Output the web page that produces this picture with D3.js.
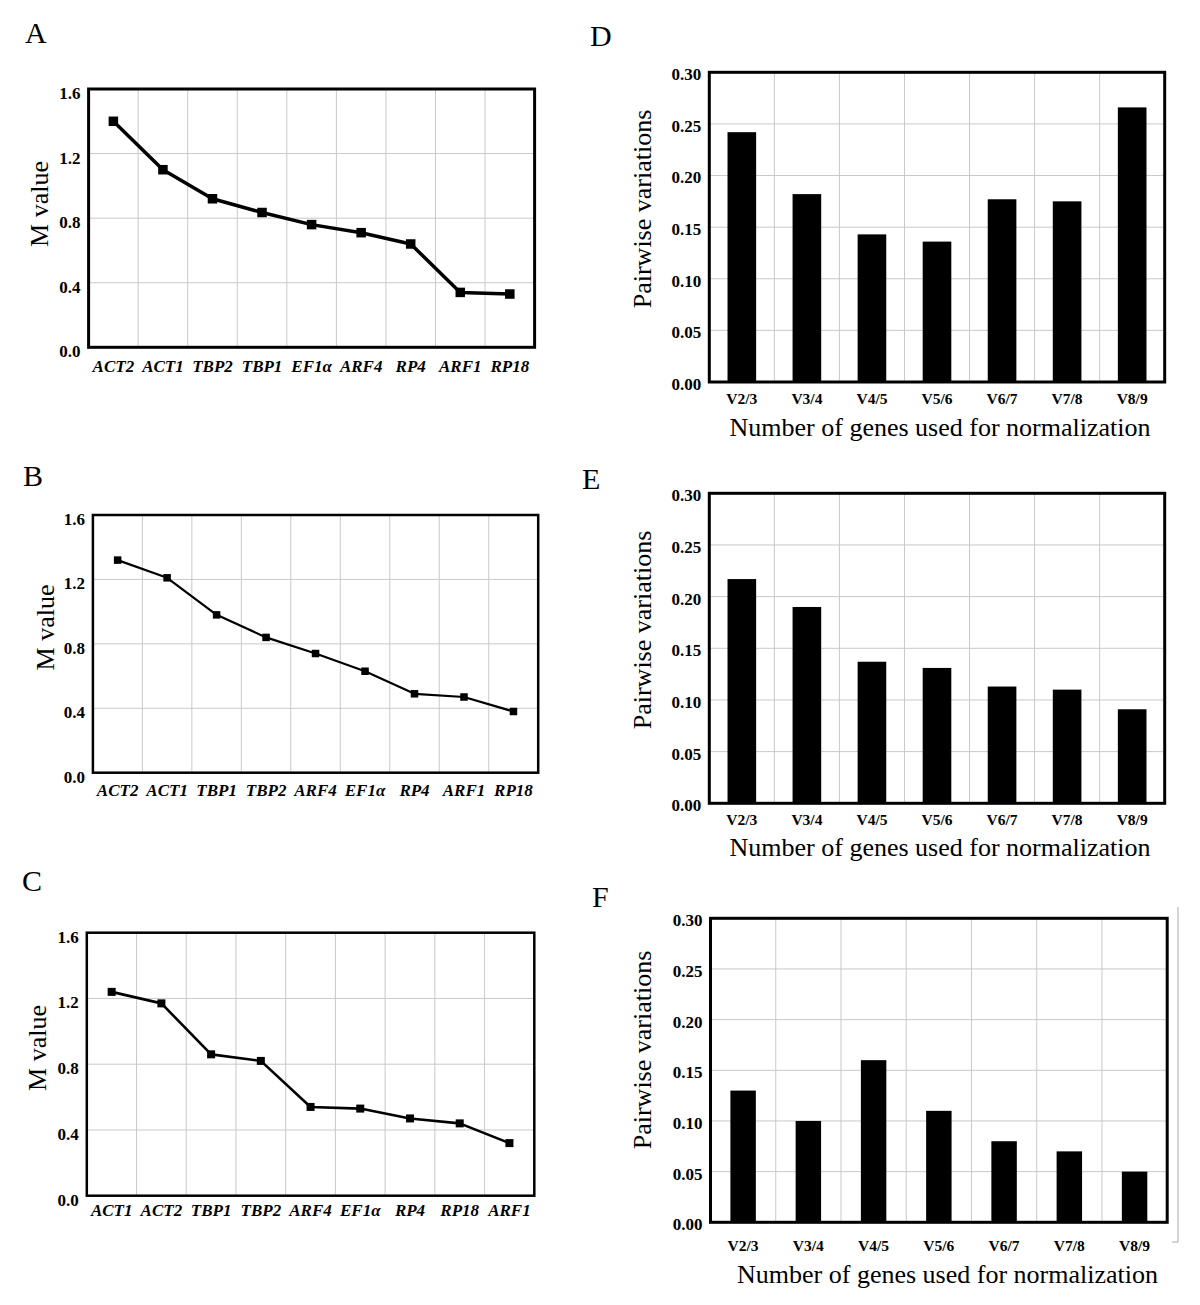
<!DOCTYPE html>
<html>
<head>
<meta charset="utf-8">
<script src="https://cdn.jsdelivr.net/npm/d3@7"></script>
<style>
  body { margin: 0; background: #fff; }
  svg { display: block; }
  text { font-family: "Liberation Serif", "Times New Roman", serif; fill: #000; }
</style>
</head>
<body>
<script>

// gene stability (geNorm M values), one list per panel
var genesA = ["ACT2", "ACT1", "TBP2", "TBP1", "EF1\u03b1", "ARF4", "RP4", "ARF1", "RP18"];
var mValuesA = [1.40, 1.10, 0.92, 0.835, 0.76, 0.71, 0.64, 0.34, 0.33];

var genesB = ["ACT2", "ACT1", "TBP1", "TBP2", "ARF4", "EF1\u03b1", "RP4", "ARF1", "RP18"];
var mValuesB = [1.32, 1.21, 0.98, 0.84, 0.74, 0.63, 0.49, 0.47, 0.38];

var genesC = ["ACT1", "ACT2", "TBP1", "TBP2", "ARF4", "EF1\u03b1", "RP4", "RP18", "ARF1"];
var mValuesC = [1.24, 1.17, 0.86, 0.82, 0.54, 0.53, 0.47, 0.44, 0.32];

var mTicks = [0, 0.4, 0.8, 1.2, 1.6];

// pairwise variations
var pairs = ["V2/3", "V3/4", "V4/5", "V5/6", "V6/7", "V7/8", "V8/9"];
var pairValuesD = [0.242, 0.182, 0.143, 0.136, 0.177, 0.175, 0.266];
var pairValuesE = [0.217, 0.190, 0.137, 0.131, 0.113, 0.110, 0.091];
var pairValuesF = [0.13, 0.10, 0.16, 0.11, 0.08, 0.07, 0.05];

var pairTicks = [0, 0.05, 0.10, 0.15, 0.20, 0.25, 0.30];

var svg = d3.select("body").append("svg")
    .attr("width", 1200)
    .attr("height", 1305);

var gridColor = "#c9c9c9";

function panelLetter(letter, x, y) {
  svg.append("text")
    .attr("x", x).attr("y", y)
    .style("font-size", "30px")
    .text(letter);
}

// draws the light grid inside a plot box
function drawGrid(g, x, y, ticks, w, h) {
  g.selectAll(".hgrid")
    .data(ticks.slice(1, ticks.length - 1))
    .enter().append("line")
    .attr("x1", 0).attr("x2", w)
    .attr("y1", function(d) { return y(d); })
    .attr("y2", function(d) { return y(d); })
    .attr("stroke", gridColor).attr("stroke-width", 1);

  g.selectAll(".vgrid")
    .data(x.domain().slice(1))
    .enter().append("line")
    .attr("x1", function(d) { return x(d); })
    .attr("x2", function(d) { return x(d); })
    .attr("y1", 0).attr("y2", h)
    .attr("stroke", gridColor).attr("stroke-width", 1);
}

function drawAxes(g, x, y, ticks, fmt, h, o) {
  var yAxis = g.append("g")
    .call(d3.axisLeft(y).tickValues(ticks).tickSize(0).tickPadding(o.tickPad).tickFormat(d3.format(fmt)));
  yAxis.select(".domain").remove();
  yAxis.selectAll("text")
    .attr("dy", "0.32em")
    .attr("transform", "translate(0," + o.tickShift + ")")
    .style("font-size", o.yTickSize + "px")
    .style("font-weight", "bold")
    .style("font-family", "'Liberation Serif', serif");

  var xAxis = g.append("g")
    .attr("transform", "translate(0," + h + ")")
    .call(d3.axisBottom(x).tickSize(0));
  xAxis.select(".domain").remove();
  xAxis.selectAll("text")
    .attr("y", o.xLabelBase - o.bottom)
    .attr("dy", 0)
    .style("font-size", o.xTickSize + "px")
    .style("font-weight", "bold")
    .style("font-style", o.italic ? "italic" : "normal")
    .style("font-family", "'Liberation Serif', serif");
}

function drawLinePanel(o) {
  var w = o.right - o.left, h = o.bottom - o.top;
  var g = svg.append("g").attr("transform", "translate(" + o.left + "," + o.top + ")");

  var x = d3.scaleBand().domain(o.genes).range([0, w]).padding(0);
  var y = d3.scaleLinear().domain([0, 1.6]).range([h, 0]);

  drawGrid(g, x, y, mTicks, w, h);

  o.tickPad = 8; o.tickShift = 4; o.yTickSize = 17; o.xTickSize = 17; o.italic = true;
  drawAxes(g, x, y, mTicks, ".1f", h, o);

  var pts = o.genes.map(function(d, i) { return {gene: d, value: o.values[i]}; });

  var line = d3.line()
    .x(function(d) { return x(d.gene) + x.bandwidth() / 2; })
    .y(function(d) { return y(d.value); });

  g.append("path")
    .datum(pts)
    .attr("d", line)
    .attr("fill", "none")
    .attr("stroke", "#000")
    .attr("stroke-width", o.lineW)
    .attr("stroke-linejoin", "round");

  g.selectAll(".marker")
    .data(pts)
    .enter().append("rect")
    .attr("x", function(d) { return x(d.gene) + x.bandwidth() / 2 - o.markS / 2; })
    .attr("y", function(d) { return y(d.value) - o.markS / 2; })
    .attr("width", o.markS).attr("height", o.markS)
    .attr("fill", "#000");

  g.append("rect")
    .attr("width", w).attr("height", h)
    .attr("fill", "none").attr("stroke", "#000").attr("stroke-width", o.frameW);

  svg.append("text")
    .attr("transform", "translate(" + o.labelX + "," + o.labelY + ") rotate(-90)")
    .attr("text-anchor", "middle")
    .style("font-size", "26px")
    .text("M value");

  panelLetter(o.letter, o.letterX, o.letterY);
}

function drawBarPanel(o) {
  var w = o.right - o.left, h = o.bottom - o.top;
  var g = svg.append("g").attr("transform", "translate(" + o.left + "," + o.top + ")");

  var x = d3.scaleBand().domain(pairs).range([0, w]).padding(0);
  var y = d3.scaleLinear().domain([0, 0.3]).range([h, 0]);

  drawGrid(g, x, y, pairTicks, w, h);

  o.tickPad = 8; o.tickShift = 2; o.yTickSize = 17; o.xTickSize = 15.5; o.italic = false;
  drawAxes(g, x, y, pairTicks, ".2f", h, o);

  var bw = x.bandwidth() * o.barRatio;

  g.selectAll(".bar")
    .data(o.values)
    .enter().append("rect")
    .attr("x", function(d, i) { return x(pairs[i]) + (x.bandwidth() - bw) / 2; })
    .attr("y", function(d) { return y(d); })
    .attr("width", bw)
    .attr("height", function(d) { return h - y(d); })
    .attr("fill", "#000");

  g.append("rect")
    .attr("width", w).attr("height", h)
    .attr("fill", "none").attr("stroke", "#000").attr("stroke-width", 3);

  svg.append("text")
    .attr("transform", "translate(" + o.labelX + "," + o.labelY + ") rotate(-90)")
    .attr("text-anchor", "middle")
    .style("font-size", "26px")
    .text("Pairwise variations");

  svg.append("text")
    .attr("x", o.titleX).attr("y", o.titleY)
    .attr("text-anchor", "middle")
    .style("font-size", "26px")
    .text("Number of genes used for normalization");

  panelLetter(o.letter, o.letterX, o.letterY);
}

drawLinePanel({letter: "A", letterX: 25, letterY: 43,
  left: 88.6, right: 534.6, top: 89, bottom: 347.3,
  genes: genesA, values: mValuesA, lineW: 3.5, markS: 9.5, frameW: 3,
  xLabelBase: 371.7, labelX: 48, labelY: 204});

drawLinePanel({letter: "B", letterX: 23, letterY: 486,
  left: 92.9, right: 538.2, top: 515, bottom: 772.7,
  genes: genesB, values: mValuesB, lineW: 2.2, markS: 7.5, frameW: 2.5,
  xLabelBase: 796, labelX: 53.5, labelY: 627.5});

drawLinePanel({letter: "C", letterX: 22, letterY: 891,
  left: 86.8, right: 534.3, top: 932.7, bottom: 1195.7,
  genes: genesC, values: mValuesC, lineW: 2.6, markS: 8, frameW: 2.5,
  xLabelBase: 1216, labelX: 46.4, labelY: 1048});

drawBarPanel({letter: "D", letterX: 590, letterY: 46,
  left: 709.3, right: 1164.7, top: 72.3, bottom: 382,
  values: pairValuesD, barRatio: 0.44,
  xLabelBase: 404, labelX: 650.8, labelY: 209, titleX: 940, titleY: 435.7});

drawBarPanel({letter: "E", letterX: 582, letterY: 489,
  left: 709.3, right: 1164.7, top: 493.3, bottom: 803.3,
  values: pairValuesE, barRatio: 0.44,
  xLabelBase: 825, labelX: 650.8, labelY: 630, titleX: 940, titleY: 856});

drawBarPanel({letter: "F", letterX: 592, letterY: 907,
  left: 710.5, right: 1167.2, top: 918.3, bottom: 1222.3,
  values: pairValuesF, barRatio: 0.39,
  xLabelBase: 1250.7, labelX: 651.2, labelY: 1050, titleX: 947.5, titleY: 1283});

// stray bracket line right of panel F in the original figure
svg.append("path")
  .attr("d", "M1178,907 V1242 H1172")
  .attr("fill", "none")
  .attr("stroke", "#a8a8a8")
  .attr("stroke-width", 1);

</script>
</body>
</html>
